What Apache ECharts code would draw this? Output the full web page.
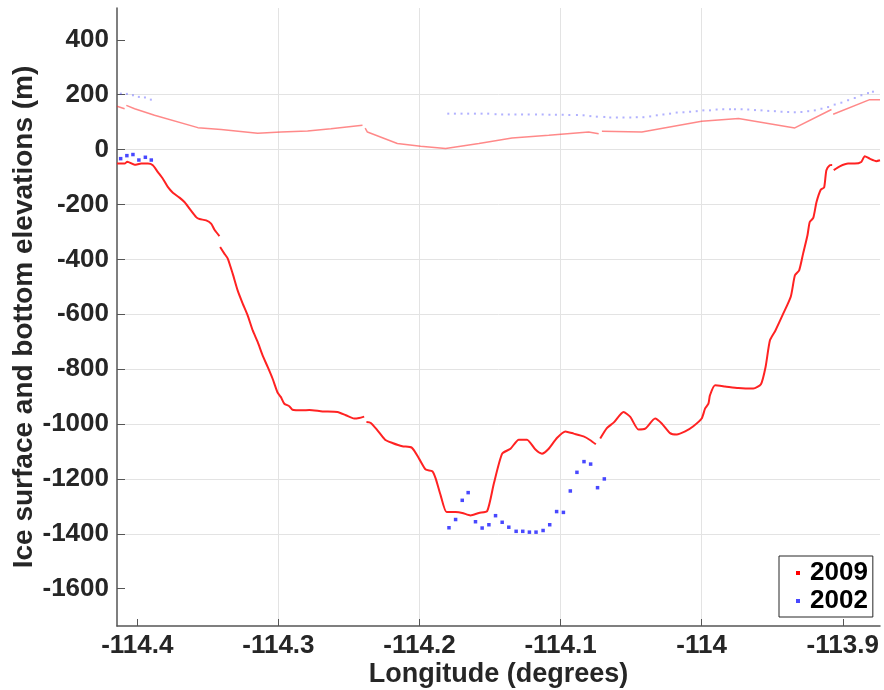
<!DOCTYPE html>
<html>
<head>
<meta charset="utf-8">
<script src="https://cdn.jsdelivr.net/npm/echarts@6/dist/echarts.min.js"></script>
<style>
html,body{margin:0;padding:0;background:#fff;}
#chart{width:884px;height:690px;}
</style>
</head>
<body>
<div id="chart"></div>
<script>
// ---- Data (longitude in degrees, elevation in m); null marks a gap ----
var xTicks = [-114.4, -114.3, -114.2, -114.1, -114, -113.9];
var yTicks = [-1600, -1400, -1200, -1000, -800, -600, -400, -200, 0, 200, 400];

// 2009 bed elevation
var bed2009 = [
  [-114.4144,-51],[-114.409,-51],[-114.4071,-44],[-114.4019,-55],[-114.3972,-51],[-114.3925,-51],
  [-114.389,-57],[-114.3854,-82],[-114.3819,-106],[-114.3784,-136],[-114.3748,-157],[-114.3701,-175],
  [-114.3666,-191],[-114.363,-215],[-114.3583,-246],[-114.3559,-253],[-114.3512,-258],[-114.3477,-270],
  [-114.3453,-292],[-114.3418,-315],
  null,
  [-114.3413,-355],[-114.3383,-379],[-114.3359,-397],[-114.3324,-452],[-114.3289,-513],[-114.3253,-561],
  [-114.3218,-604],[-114.3182,-659],[-114.3147,-701],[-114.3112,-750],[-114.3076,-792],[-114.3041,-835],
  [-114.3006,-885],[-114.2982,-902],[-114.2958,-926],[-114.2923,-935],[-114.29,-948],[-114.2829,-950],
  [-114.2781,-949],[-114.2687,-954],[-114.2581,-956],[-114.2522,-968],[-114.2463,-980],[-114.2428,-978],
  [-114.2392,-973],
  null,
  [-114.2376,-993],[-114.2345,-996],[-114.2298,-1023],[-114.2244,-1057],[-114.2192,-1069],[-114.2122,-1081],
  [-114.2055,-1086],[-114.2003,-1126],[-114.1956,-1166],[-114.1909,-1172],[-114.1885,-1199],[-114.185,-1260],
  [-114.1808,-1321],[-114.1744,-1321],[-114.1697,-1324],[-114.1638,-1333],[-114.1579,-1324],[-114.152,-1317],
  [-114.1473,-1217],[-114.1414,-1108],[-114.1355,-1090],[-114.1296,-1057],[-114.1238,-1057],[-114.1178,-1093],
  [-114.1132,-1108],[-114.1084,-1090],[-114.1026,-1051],[-114.0966,-1027],[-114.0907,-1035],[-114.0837,-1045],
  [-114.0789,-1059],[-114.075,-1074],
  null,
  [-114.0719,-1053],[-114.0672,-1015],[-114.0624,-995],[-114.0554,-956],[-114.0506,-974],[-114.0448,-1020],
  [-114.04,-1017],[-114.033,-980],[-114.0283,-998],[-114.0224,-1033],[-114.0177,-1038],[-114.0117,-1027],
  [-114.0059,-1008],[-114.0,-980],[-113.9976,-944],[-113.9952,-926],[-113.9941,-895],[-113.9905,-859],
  [-113.9835,-863],[-113.974,-869],[-113.9634,-871],[-113.958,-855],[-113.9547,-792],[-113.9516,-695],
  [-113.9477,-659],[-113.9422,-598],[-113.9368,-535],[-113.9339,-458],[-113.9309,-440],[-113.9281,-379],
  [-113.925,-312],[-113.9234,-264],[-113.9209,-249],[-113.9186,-191],[-113.9156,-146],[-113.9132,-138],
  [-113.9116,-75],[-113.9092,-57],[-113.9075,-56],
  null,
  [-113.9064,-75],[-113.9021,-61],[-113.8962,-51],[-113.8915,-51],[-113.8869,-45],[-113.8844,-24],
  [-113.8809,-33],[-113.8762,-42],[-113.8736,-39]
];

// 2009 ice surface
var surf2009 = [
  [-114.4144,158],[-114.409,149],
  null,
  [-114.4078,161],[-114.4019,149],[-114.3878,125],[-114.3571,80],[-114.3406,73],[-114.3147,60],
  [-114.2982,64],[-114.2793,68],[-114.2628,76],[-114.2404,89],
  null,
  [-114.2385,78],[-114.2369,64],[-114.2157,22],[-114.1992,12],[-114.1815,4],[-114.1579,22],
  [-114.1344,42],[-114.1084,52],[-114.0801,64],[-114.073,58],
  null,
  [-114.0707,67],[-114.0424,64],[-114.0,103],[-113.9739,113],[-113.934,79],[-113.908,146],
  null,
  [-113.9068,129],[-113.8809,182],[-113.8736,182]
];

// 2002 bed elevation
var bed2002 = [
  [-114.4118,-33],[-114.4074,-22],[-114.4031,-18],[-114.3989,-38],[-114.3943,-28],[-114.3901,-38],
  [-114.1791,-1378],[-114.1744,-1348],[-114.1697,-1278],[-114.1655,-1250],[-114.1603,-1356],[-114.1556,-1379],
  [-114.1508,-1367],[-114.1461,-1334],[-114.1414,-1358],[-114.1367,-1376],[-114.1315,-1391],[-114.1268,-1391],
  [-114.1221,-1394],[-114.1174,-1394],[-114.1124,-1388],[-114.1077,-1367],[-114.1028,-1319],[-114.098,-1322],
  [-114.0931,-1244],[-114.0884,-1176],[-114.0834,-1137],[-114.0787,-1146],[-114.0738,-1232],[-114.069,-1200]
];

// 2002 ice surface
var surf2002 = [
  [-114.4117,204],[-114.4074,203],[-114.4031,198],[-114.3989,192],[-114.3946,190],[-114.3904,182],
  [-114.1796,131],[-114.1749,131],[-114.1702,131],[-114.1655,131],[-114.1607,131],[-114.156,131],
  [-114.1513,131],[-114.1461,129],[-114.1414,128],[-114.1367,128],[-114.132,128],[-114.1273,128],
  [-114.1226,128],[-114.1174,128],[-114.1127,128],[-114.1079,127],[-114.1033,127],[-114.0985,127],
  [-114.0938,126],[-114.0884,126],
  [-114.0837,125],[-114.0789,122],[-114.0743,120],[-114.0690,119],[-114.0648,117],[-114.0601,117],
  [-114.0554,117],[-114.0506,117],[-114.0460,118],[-114.0413,118],[-114.0365,121],[-114.0318,125],
  [-114.0271,128],[-114.0224,131],[-114.0177,135],[-114.0129,136],[-114.0082,138],[-114.0035,140],
  [-113.9988,143],[-113.9941,143],[-113.9894,146],[-113.9847,147],[-113.9799,147],[-113.9764,147],
  [-113.9717,147],[-113.967,146],[-113.9622,144],[-113.9576,143],[-113.9528,141],[-113.9481,140],
  [-113.9434,138],[-113.9387,137],[-113.934,136],[-113.9293,137],[-113.9245,140],[-113.9198,143],
  [-113.9151,149],[-113.9104,155],[-113.9057,164],[-113.901,171],[-113.8962,180],[-113.8915,188],
  [-113.8868,198],[-113.8821,206],[-113.8786,211]
];

var legendNames = ['2009', '2002'];

function withGaps(arr){ return arr.map(function(d){ return d === null ? ['-','-'] : d; }); }
function fmtX(v){ return String(Math.round(v*10)/10); }
function fmtY(v){ return String(Math.round(v)); }

var FONT = '"Liberation Sans", Arial, Helvetica, sans-serif';
var TXT = '#262626';
var AX = '#555555';

var chart = echarts.init(document.getElementById('chart'), null, {renderer:'canvas'});
chart.setOption({
  animation: false,
  backgroundColor: '#ffffff',
  grid: {left:117, right:4, top:8, bottom:64, containLabel:false, outerBoundsMode:'none'},
  xAxis: {
    type:'value', min:-114.4144, max:-113.8736, splitNumber:5,
    name:'Longitude (degrees)', nameLocation:'middle', nameGap:35, nameMoveOverlap:false,
    nameTextStyle:{fontSize:27, fontWeight:'bold', color:TXT, fontFamily:FONT},
    axisLine:{show:true, onZero:false, lineStyle:{color:AX, width:1.5}},
    axisTick:{show:true, inside:true, length:7, lineStyle:{color:AX, width:1}, customValues:xTicks},
    axisLabel:{customValues:xTicks, formatter:fmtX, fontSize:26, fontWeight:'bold', color:TXT, fontFamily:FONT, margin:7},
    splitLine:{show:true, showMinLine:false, showMaxLine:false, lineStyle:{color:'#e3e3e3', width:1}}
  },
  yAxis: {
    type:'value', min:-1736, max:516, splitNumber:11,
    name:'Ice surface and bottom elevations (m)', nameLocation:'middle', nameGap:79, nameMoveOverlap:false,
    nameTextStyle:{fontSize:28, fontWeight:'bold', color:TXT, fontFamily:FONT},
    axisLine:{show:true, onZero:false, lineStyle:{color:AX, width:1.5}},
    axisTick:{show:true, inside:true, length:8, lineStyle:{color:AX, width:1}, customValues:yTicks},
    axisLabel:{customValues:yTicks, formatter:fmtY, fontSize:26, fontWeight:'bold', color:TXT, fontFamily:FONT, margin:8},
    splitLine:{show:true, showMinLine:false, showMaxLine:false, lineStyle:{color:'#e3e3e3', width:1}}
  },
  legend: {
    data: legendNames,
    orient:'vertical', left:779, top:556,
    icon:'rect', itemWidth:4, itemHeight:4, itemGap:2,
    padding:[4,5,3,17],
    borderColor:'#262626', borderWidth:1, backgroundColor:'#ffffff',
    textStyle:{fontSize:26, fontWeight:'bold', color:'#000', fontFamily:FONT, padding:[0,0,0,5]}
  },
  series: [
    {name:'surface2009', type:'line', data:withGaps(surf2009), showSymbol:false, symbol:'none',
     lineStyle:{color:'rgba(255,40,40,0.55)', width:1.5}, itemStyle:{color:'#ff0000'}, z:2},
    {name:'surface2002', type:'scatter', data:surf2002, symbol:'rect', symbolSize:2,
     itemStyle:{color:'rgba(60,60,255,0.5)'}, z:2},
    {name:'2009', type:'line', data:withGaps(bed2009), showSymbol:false, symbol:'none', smooth:0.2,
     lineStyle:{color:'#ff2222', width:2}, itemStyle:{color:'#ff0000'}, z:3},
    {name:'2002', type:'scatter', data:bed2002, symbol:'rect', symbolSize:3.5,
     itemStyle:{color:'#1a1aff'}, z:4}
  ]
});
</script>
</body>
</html>
